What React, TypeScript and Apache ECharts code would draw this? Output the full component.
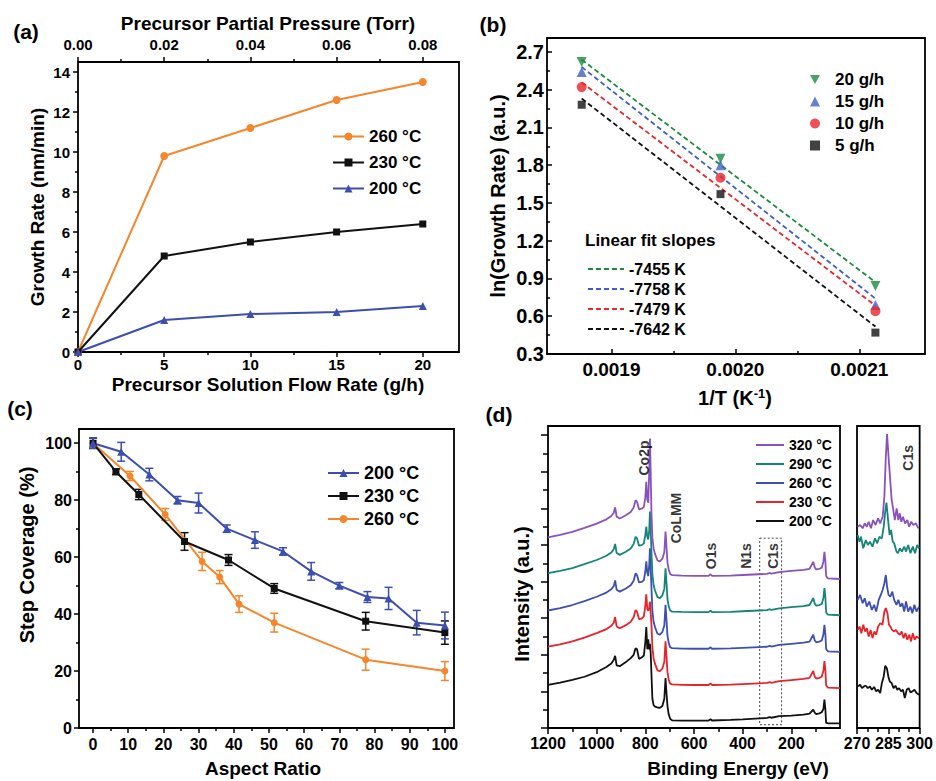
import React, { useEffect, useRef } from "react";
import * as echarts from "echarts";

const FONT = '"Liberation Sans", Arial, Helvetica, sans-serif';

// ---------- (a) growth rate vs. precursor flow rate ----------
const flowRate = [0, 5, 10, 15, 20];
const growth260 = [0, 9.8, 11.2, 12.6, 13.5];
const growth230 = [0, 4.8, 5.5, 6.0, 6.4];
const growth200 = [0, 1.6, 1.9, 2.0, 2.3];
const flowTicks = [0, 5, 10, 15, 20];
const flowMinor = [2.5, 7.5, 12.5, 17.5];
const pressureTicks = [0, 0.02, 0.04, 0.06, 0.08];
const pressureMinor = [0.01, 0.03, 0.05, 0.07];
const growthTicks = [0, 2, 4, 6, 8, 10, 12, 14];
const growthMinor = [1, 3, 5, 7, 9, 11, 13];

// ---------- (b) Arrhenius plot ----------
const inverseT = [0.001876, 0.001988, 0.002113];
const lnRate20 = [2.62, 1.85, 0.84];
const lnRate15 = [2.54, 1.8, 0.69];
const lnRate10 = [2.42, 1.7, 0.64];
const lnRate5 = [2.28, 1.57, 0.47];
const fitSlopes = [-7455, -7758, -7479, -7642]; // 20, 15, 10, 5 g/h
const invTTicks = [0.0019, 0.002, 0.0021];
const invTMinor = [0.00195, 0.00205];
const lnTicks = [0.3, 0.6, 0.9, 1.2, 1.5, 1.8, 2.1, 2.4, 2.7];
const lnMinor = [0.45, 0.75, 1.05, 1.35, 1.65, 1.95, 2.25, 2.55];

// ---------- (c) step coverage vs. aspect ratio ----------
const aspect200 = [0, 8, 16, 24, 30, 38, 46, 54, 62, 70, 78, 84, 92, 100];
const coverage200 = [100, 97, 89, 80, 79, 70, 66, 62, 55, 50, 46, 45.5, 37, 36];
const error200 = [1.8, 3.3, 2.2, 1.3, 3.5, 1.3, 2.9, 1.3, 3.1, 1.1, 1.9, 3.9, 4.3, 4.7];
const aspect230 = [0, 6.5, 13, 26, 38.5, 51.5, 77.5, 100];
const coverage230 = [100, 90, 82, 65.5, 59, 49, 37.5, 33.5];
const error230 = [1.8, 1, 1.8, 3.1, 1.9, 1.7, 3.1, 4.1];
const aspect260 = [0, 10.5, 20.5, 31, 36, 41.5, 51.5, 77.5, 100];
const coverage260 = [100, 88.5, 75, 58.5, 53, 43.5, 37, 24, 20];
const error260 = [1.8, 1.6, 2.1, 3.2, 2.3, 2.9, 3.3, 3.7, 3.3];
const aspectTicks = [0, 10, 20, 30, 40, 50, 60, 70, 80, 90, 100];
const aspectMinor = [5, 15, 25, 35, 45, 55, 65, 75, 85, 95];
const coverageTicks = [0, 20, 40, 60, 80, 100];
const coverageMinor = [10, 30, 50, 70, 90];

// ---------- (d) XPS survey spectra (stacked, arbitrary units) ----------
const surveyEnergy = [
  1200, 1150, 1100, 1050, 1000, 960, 940, 930, 924, 918, 905, 880, 860, 848, 840,
  834, 826, 815, 806, 800, 796, 792, 788, 784, 781, 778, 775, 771, 766, 760,
  750, 740, 730, 722, 717, 713, 709, 704, 698, 690, 650, 600, 540, 532, 526,
  450, 400, 300, 288, 282, 250, 200, 150, 125, 110, 104, 98, 85, 75, 68,
  64, 60, 57, 50, 0,
];
const survey320 = [
  10.41, 10.55, 10.72, 10.93, 11.17, 11.4, 11.58, 11.75, 12.06, 11.55, 11.45, 11.62, 11.8, 12.05, 12.45,
  12.35, 11.95, 11.98, 12.08, 12.6, 13.45, 12.5, 12.3, 14.0, 15.82, 14.0, 11.8, 10.4, 9.8, 9.5,
  9.15, 9.1, 9.25, 9.6, 10.73, 9.9, 9.05, 8.65, 8.42, 8.35, 8.32, 8.31, 8.31, 8.4, 8.31,
  8.33, 8.36, 8.42, 8.47, 8.43, 8.52, 8.58, 8.64, 8.7, 9.08, 8.78, 8.66, 8.7, 8.76, 9.1,
  9.62, 9.1, 8.3, 8.17, 8.14,
];
const survey290 = [
  8.46, 8.58, 8.74, 8.95, 9.18, 9.41, 9.59, 9.76, 10.06, 9.56, 9.46, 9.63, 9.81, 10.06, 10.45,
  10.35, 9.96, 9.99, 10.09, 10.55, 11.0, 10.45, 10.3, 10.8, 11.82, 10.8, 9.7, 8.4, 7.8, 7.5,
  7.15, 7.1, 7.25, 7.6, 8.73, 7.9, 7.05, 6.65, 6.42, 6.36, 6.34, 6.33, 6.33, 6.41, 6.33,
  6.35, 6.38, 6.44, 6.49, 6.45, 6.54, 6.6, 6.66, 6.72, 7.1, 6.8, 6.68, 6.72, 6.78, 7.12,
  7.64, 7.12, 6.32, 6.19, 6.16,
];
const survey260 = [
  6.42, 6.55, 6.72, 6.93, 7.17, 7.4, 7.58, 7.75, 8.06, 7.55, 7.45, 7.62, 7.8, 8.05, 8.45,
  8.35, 7.95, 7.98, 8.08, 8.55, 9.1, 8.5, 8.3, 8.9, 9.82, 8.8, 7.7, 6.4, 5.8, 5.5,
  5.15, 5.1, 5.25, 5.6, 6.73, 5.9, 5.05, 4.65, 4.42, 4.36, 4.34, 4.33, 4.33, 4.41, 4.33,
  4.35, 4.38, 4.44, 4.49, 4.45, 4.54, 4.6, 4.66, 4.72, 5.1, 4.8, 4.68, 4.72, 4.78, 5.12,
  5.64, 5.12, 4.32, 4.19, 4.16,
];
const survey230 = [
  4.44, 4.57, 4.73, 4.94, 5.18, 5.4, 5.58, 5.75, 6.06, 5.55, 5.45, 5.62, 5.8, 6.05, 6.45,
  6.35, 5.95, 5.98, 6.1, 6.7, 7.3, 6.5, 6.4, 6.6, 6.9, 6.3, 5.7, 4.4, 3.8, 3.5,
  3.15, 3.1, 3.25, 3.6, 4.73, 3.9, 3.05, 2.65, 2.42, 2.38, 2.36, 2.35, 2.35, 2.44, 2.35,
  2.37, 2.4, 2.46, 2.51, 2.47, 2.56, 2.62, 2.68, 2.74, 3.12, 2.82, 2.7, 2.74, 2.8, 3.14,
  3.66, 3.14, 2.34, 2.21, 2.18,
];
const survey200 = [
  2.36, 2.48, 2.63, 2.8, 3.05, 3.33, 3.52, 3.72, 3.94, 3.42, 3.38, 3.6, 3.82, 4.0, 4.36,
  4.3, 3.78, 3.85, 3.96, 4.7, 5.51, 4.3, 4.85, 4.3, 4.6, 4.1, 3.0, 1.6, 1.25, 1.17,
  1.12, 1.1, 1.2, 1.6, 2.73, 1.9, 1.2, 0.75, 0.5, 0.42, 0.4, 0.4, 0.41, 0.48, 0.41,
  0.44, 0.47, 0.55, 0.6, 0.56, 0.65, 0.68, 0.73, 0.78, 1.0, 0.84, 0.76, 0.8, 0.86, 1.05,
  1.55, 1.0, 0.28, 0.26, 0.25,
];
const energyTicks = [200, 400, 600, 800, 1000, 1200];
const energyMinor = [100, 300, 500, 700, 900, 1100];
const intensityTicks = [0, 2, 4, 6, 8, 10, 12, 14, 16];
const intensityMinor = [1, 3, 5, 7, 9, 11, 13, 15];

// C1s high-resolution window: [binding energy, intensity]
const c1s320 = [
  [270.3, 11.0], [271.5, 11.09], [272.7, 10.91], [273.7, 11.18], [274.7, 11.0], [275.6, 11.27],
  [276.7, 10.91], [277.7, 11.36], [278.9, 11.09], [280.1, 11.46], [281.1, 11.18], [282.3, 11.54],
  [283.1, 12.64], [283.8, 14.82], [284.4, 16.06], [285.1, 14.82], [285.9, 13.55], [286.6, 12.46],
  [287.4, 11.91], [288.1, 11.36], [289.0, 12.0], [289.8, 11.36], [290.5, 11.73], [291.2, 11.27],
  [292.0, 11.54], [293.0, 11.18], [294.1, 11.36], [295.0, 11.0], [296.0, 11.27], [297.0, 11.09],
  [298.2, 11.18], [299.4, 10.91],
];
const c1s290 = [
  [270.3, 10.55], [271.2, 10.18], [271.9, 10.45], [273.0, 9.82], [274.2, 10.27], [275.2, 10.0],
  [276.2, 10.18], [277.4, 9.91], [278.6, 10.36], [279.7, 10.09], [280.7, 10.45], [281.9, 10.36],
  [282.8, 11.0], [283.5, 11.82], [284.1, 12.31], [284.9, 11.36], [285.6, 10.55], [286.3, 10.82],
  [287.1, 10.18], [287.8, 10.09], [288.9, 9.64], [289.6, 9.55], [290.5, 9.82], [291.5, 9.64],
  [292.6, 9.91], [293.5, 9.64], [294.5, 10.0], [295.6, 9.55], [296.7, 9.91], [297.8, 9.55],
  [298.8, 10.0], [299.7, 9.82],
];
const c1s260 = [
  [270.3, 7.0], [271.5, 7.27], [272.7, 6.82], [273.7, 7.09], [274.7, 6.63], [275.9, 6.91],
  [277.1, 6.45], [278.2, 6.73], [279.2, 6.36], [280.4, 7.0], [281.4, 7.27], [282.3, 7.55],
  [283.1, 7.9], [283.8, 8.36], [284.4, 7.73], [285.1, 7.27], [286.0, 7.18], [286.9, 7.45],
  [287.8, 7.0], [288.9, 6.73], [289.8, 7.0], [290.8, 6.63], [291.7, 6.82], [292.6, 6.36],
  [293.5, 6.91], [294.5, 6.36], [295.6, 6.63], [296.5, 6.27], [297.5, 6.73], [298.5, 6.36],
  [299.7, 6.63],
];
const c1s230 = [
  [270.3, 5.36], [271.2, 5.54], [272.1, 5.18], [273.0, 5.64], [273.9, 5.27], [274.7, 5.45],
  [275.6, 5.0], [276.5, 5.36], [277.4, 4.91], [278.3, 5.27], [279.2, 5.09], [280.1, 5.54],
  [281.1, 5.73], [282.2, 5.64], [283.1, 6.36], [283.8, 6.55], [284.6, 6.27], [285.3, 5.64],
  [286.0, 5.54], [286.8, 5.36], [287.8, 5.27], [288.7, 5.36], [289.6, 5.18], [290.5, 5.09],
  [291.4, 5.27], [292.3, 4.91], [293.2, 5.18], [294.1, 4.82], [295.0, 5.09], [295.9, 4.73],
  [296.7, 5.18], [297.6, 4.82], [298.5, 5.0], [299.7, 4.91],
];
const c1s200 = [
  [270.3, 2.27], [271.5, 2.36], [272.4, 2.18], [273.3, 2.27], [274.2, 2.31], [275.2, 2.18],
  [276.2, 2.27], [277.1, 2.09], [278.2, 2.24], [279.2, 2.0], [280.1, 2.09], [281.1, 1.91],
  [281.9, 2.45], [282.8, 2.82], [283.5, 3.4], [284.3, 3.27], [285.0, 2.82], [285.7, 2.54],
  [286.6, 2.45], [287.5, 2.18], [288.4, 2.31], [289.3, 2.09], [290.2, 2.18], [291.1, 2.0],
  [292.0, 2.09], [292.9, 1.64], [293.8, 2.09], [294.7, 2.18], [295.6, 1.94], [296.5, 2.0],
  [297.5, 2.09], [298.5, 1.91], [299.7, 1.82],
];
const c1sTicks = [270, 285, 300];
const c1sMinor = [275, 280, 290, 295];

// peak annotations [binding energy, intensity, text]
const surveyPeaks = [
  [806, 14.75, "Co2p"],
  [673, 11.47, "CoLMM"],
  [529, 9.4, "O1s"],
  [385, 9.4, "N1s"],
  [276, 9.4, "C1s"],
];
const c1sPeakLabel = [[294.5, 14.76, "C1s"]];
const c1sWindow = { from: 330, to: 240, top: 10.37, bottom: 0.18 };

// ---------- colours ----------
const ORANGE = "#f4862c";
const NAVY = "#3c4fae";
const BLACK = "#111111";
const GREEN = "#1b8a3f";
const BLUE_B = "#3e5fc8";
const RED_B = "#e8262c";
const PURPLE = "#8a52bf";
const TEAL = "#15857a";
const BLUE_D = "#3d4fb3";
const RED_D = "#e8232b";

const LEGEND_TEXT: Record<string, string> = {
  a260: "260 °C",
  a230: "230 °C",
  a200: "200 °C",
  b20: "20 g/h",
  b15: "15 g/h",
  b10: "10 g/h",
  b5: "5 g/h",
  f20: `${fitSlopes[0]} K`,
  f15: `${fitSlopes[1]} K`,
  f10: `${fitSlopes[2]} K`,
  f5: `${fitSlopes[3]} K`,
  c200: "200 °C",
  c230: "230 °C",
  c260: "260 °C",
  d320: "320 °C",
  d290: "290 °C",
  d260: "260 °C",
  d230: "230 °C",
  d200: "200 °C",
};

const DOWN_TRIANGLE = "path://M0,0L10,0L5,9Z";

const pairs = (xs: number[], ys: number[]) => xs.map((x, i) => [x, ys[i]]);
const triples = (xs: number[], ys: number[], es: number[]) => xs.map((x, i) => [x, ys[i], es[i]]);
const mean = (v: number[]) => v.reduce((s, a) => s + a, 0) / v.length;

// least-squares intercept for a line of fixed slope through the points
function fitLine(ys: number[], slope: number) {
  const b = mean(ys) - slope * mean(inverseT);
  const x0 = inverseT[0];
  const x1 = inverseT[inverseT.length - 1];
  return [
    [x0, b + slope * x0],
    [x1, b + slope * x1],
  ];
}

type AxisSpec = {
  grid: number;
  min: number;
  max: number;
  position: string;
  major?: number[];
  minor?: number[];
  labels?: number[];
  fmt?: (v: number) => string;
  fontSize?: number;
  margin?: number;
  inside?: boolean;
  inverse?: boolean;
  majorLen?: number;
  minorLen?: number;
};

const tickLine = { color: "#000", width: 1.5 };

// each axis is a pair: major ticks + labels, then minor ticks only
function axisPair(s: AxisSpec) {
  const base: any = {
    type: "value",
    gridIndex: s.grid,
    min: s.min,
    max: s.max,
    position: s.position,
    inverse: !!s.inverse,
    axisLine: { show: false, onZero: false },
    splitLine: { show: false },
    minorTick: { show: false },
    minorSplitLine: { show: false },
  };
  const main = {
    ...base,
    axisTick:
      s.major && s.major.length
        ? { show: true, inside: !!s.inside, length: s.majorLen ?? 5, customValues: s.major, lineStyle: tickLine }
        : { show: false },
    axisLabel: s.labels
      ? {
          show: true,
          customValues: s.labels,
          formatter: s.fmt ?? ((v: number) => String(v)),
          fontSize: s.fontSize,
          margin: s.margin,
          color: "#000",
          fontWeight: "bold",
          fontFamily: FONT,
        }
      : { show: false },
  };
  const minor = {
    ...base,
    axisTick:
      s.minor && s.minor.length
        ? { show: true, inside: !!s.inside, length: s.minorLen ?? 3, customValues: s.minor, lineStyle: tickLine }
        : { show: false },
    axisLabel: { show: false },
  };
  return [main, minor];
}

function text(t: string, x: number, y: number, size: number, rotate = false, align = "center") {
  return {
    type: "text",
    x,
    y,
    rotation: rotate ? Math.PI / 2 : 0,
    silent: true,
    style: {
      text: t,
      font: `bold ${size}px ${FONT}`,
      fill: "#000",
      align,
      verticalAlign: "middle",
    },
  };
}

function legend(
  data: string[],
  left: number,
  top: number,
  itemWidth: number,
  itemHeight: number,
  itemGap: number,
  fontSize: number,
  extra: any = {}
) {
  return {
    orient: "vertical",
    left,
    top,
    padding: 0,
    itemWidth,
    itemHeight,
    itemGap,
    selectedMode: false,
    data,
    formatter: (n: string) => LEGEND_TEXT[n],
    textStyle: { fontSize, fontWeight: "bold", fontFamily: FONT, color: "#000", ...(extra.text || {}) },
    ...(extra.itemStyle ? { itemStyle: extra.itemStyle } : {}),
  };
}

function errorBars(name: string, pts: number[][], color: string, xi: number, yi: number) {
  return {
    type: "custom",
    name,
    xAxisIndex: xi,
    yAxisIndex: yi,
    data: pts,
    encode: { x: 0, y: 1 },
    z: 2,
    renderItem: (_p: any, api: any) => {
      const x = api.value(0);
      const y = api.value(1);
      const e = api.value(2);
      const p1 = api.coord([x, y + e]);
      const p2 = api.coord([x, y - e]);
      const hw = 4;
      const st = { stroke: color, lineWidth: 1.5 };
      return {
        type: "group",
        children: [
          { type: "line", shape: { x1: p1[0], y1: p1[1], x2: p2[0], y2: p2[1] }, style: st },
          { type: "line", shape: { x1: p1[0] - hw, y1: p1[1], x2: p1[0] + hw, y2: p1[1] }, style: st },
          { type: "line", shape: { x1: p2[0] - hw, y1: p2[1], x2: p2[0] + hw, y2: p2[1] }, style: st },
        ],
      };
    },
  };
}

function buildOption(): any {
  const frame = { show: true, borderColor: "#000", borderWidth: 1.8, backgroundColor: "transparent" };
  const grid = [
    { ...frame, left: 78, top: 62, width: 381, height: 290 },
    { ...frame, left: 547, top: 38, width: 378, height: 316 },
    { ...frame, left: 79, top: 429, width: 375, height: 299 },
    { ...frame, left: 548, top: 426, width: 292, height: 302 },
    { ...frame, left: 857, top: 426, width: 67, height: 302 },
  ];

  const xAxis = [
    // 0,1 (a) flow rate
    ...axisPair({ grid: 0, min: 0, max: 22.1, position: "bottom", major: flowTicks, minor: flowMinor, labels: flowTicks, fontSize: 15, margin: 5 }),
    // 2,3 (a) partial pressure
    ...axisPair({ grid: 0, min: 0, max: 0.0884, position: "top", major: pressureTicks, minor: pressureMinor, labels: pressureTicks, fmt: (v) => v.toFixed(2), fontSize: 15, margin: 10 }),
    // 4,5 (b) 1/T
    ...axisPair({ grid: 1, min: 0.001848, max: 0.002153, position: "bottom", major: invTTicks, minor: invTMinor, labels: invTTicks, fmt: (v) => v.toFixed(4), fontSize: 19, margin: 6, inside: true }),
    // 6,7 (c) aspect ratio
    ...axisPair({ grid: 2, min: -4, max: 102.6, position: "bottom", major: aspectTicks, minor: aspectMinor, labels: aspectTicks, fontSize: 16, margin: 8 }),
    // 8,9 (d) binding energy survey
    ...axisPair({ grid: 3, min: 0, max: 1200, inverse: true, position: "bottom", major: energyTicks, minor: energyMinor, labels: energyTicks, fontSize: 16, margin: 7, majorLen: 6, minorLen: 4 }),
    // 10,11 (d) C1s window
    ...axisPair({ grid: 4, min: 270, max: 300, position: "bottom", major: c1sTicks, minor: c1sMinor, labels: c1sTicks, fontSize: 16, margin: 7, majorLen: 6, minorLen: 4 }),
  ];

  const yAxis = [
    // 0,1 (a)
    ...axisPair({ grid: 0, min: 0, max: 14.5, position: "left", major: growthTicks, minor: growthMinor, labels: growthTicks, fontSize: 15, margin: 8 }),
    // 2,3 (b)
    ...axisPair({ grid: 1, min: 0.3, max: 2.81, position: "left", major: lnTicks, minor: lnMinor, labels: lnTicks, fmt: (v) => v.toFixed(1), fontSize: 20, margin: 3, inside: true }),
    // 4,5 (c)
    ...axisPair({ grid: 2, min: 0, max: 105, position: "left", major: coverageTicks, minor: coverageMinor, labels: coverageTicks, fontSize: 16, margin: 7 }),
    // 6,7 (d) survey
    ...axisPair({ grid: 3, min: 0, max: 16.5, position: "left", major: intensityTicks, minor: intensityMinor, majorLen: 7, minorLen: 5 }),
    // 8,9 (d) C1s window
    ...axisPair({ grid: 4, min: 0, max: 16.5, position: "left" }),
  ];

  const lineA = (name: string, ys: number[], color: string, symbol: string, size: number) => ({
    type: "line",
    name,
    xAxisIndex: 0,
    yAxisIndex: 0,
    data: pairs(flowRate, ys),
    symbol,
    symbolSize: size,
    lineStyle: { width: 2, color },
    itemStyle: { color },
    z: 3,
  });

  const scatterB = (name: string, ys: number[], color: string, symbol: string, size: number) => ({
    type: "scatter",
    name,
    xAxisIndex: 4,
    yAxisIndex: 2,
    data: pairs(inverseT, ys),
    symbol,
    symbolSize: size,
    itemStyle: { color },
    z: 4,
  });

  const fitB = (name: string, ys: number[], slope: number, color: string) => ({
    type: "line",
    name,
    xAxisIndex: 4,
    yAxisIndex: 2,
    data: fitLine(ys, slope),
    symbol: "none",
    lineStyle: { width: 1.8, type: [5, 3], color },
    itemStyle: { color },
    z: 3,
  });

  const lineC = (name: string, xs: number[], ys: number[], color: string, symbol: string, size: number) => ({
    type: "line",
    name,
    xAxisIndex: 6,
    yAxisIndex: 4,
    data: pairs(xs, ys),
    symbol,
    symbolSize: size,
    lineStyle: { width: 2, color },
    itemStyle: { color },
    z: 3,
  });

  const survey = (name: string, ys: number[], color: string) => ({
    type: "line",
    name,
    xAxisIndex: 8,
    yAxisIndex: 6,
    data: pairs(surveyEnergy, ys),
    symbol: "none",
    lineStyle: { width: 1.8, color },
    itemStyle: { color },
    z: 3,
  });

  const c1s = (name: string, pts: number[][], color: string) => ({
    type: "line",
    name,
    xAxisIndex: 10,
    yAxisIndex: 8,
    data: pts,
    symbol: "none",
    lineStyle: { width: 1.8, color },
    itemStyle: { color },
    z: 3,
  });

  const peakLabel = (name: string, xi: number, yi: number, pts: any[]) => ({
    type: "scatter",
    name,
    xAxisIndex: xi,
    yAxisIndex: yi,
    data: pts,
    encode: { x: 0, y: 1 },
    symbolSize: 1,
    itemStyle: { color: "rgba(0,0,0,0)" },
    silent: true,
    z: 5,
    label: {
      show: true,
      position: "inside",
      rotate: 90,
      formatter: (p: any) => p.value[2],
      fontSize: 14,
      fontWeight: "bold",
      fontFamily: FONT,
      color: "#000",
    },
  });

  const series: any[] = [
    // (a)
    lineA("a260", growth260, ORANGE, "circle", 8),
    lineA("a230", growth230, BLACK, "rect", 7),
    lineA("a200", growth200, NAVY, "triangle", 8),
    // (b)
    fitB("f20", lnRate20, fitSlopes[0], GREEN),
    fitB("f15", lnRate15, fitSlopes[1], BLUE_B),
    fitB("f10", lnRate10, fitSlopes[2], RED_B),
    fitB("f5", lnRate5, fitSlopes[3], BLACK),
    scatterB("b20", lnRate20, GREEN, DOWN_TRIANGLE, 10),
    scatterB("b15", lnRate15, BLUE_B, "triangle", 10),
    scatterB("b10", lnRate10, RED_B, "circle", 10),
    scatterB("b5", lnRate5, BLACK, "rect", 8),
    // (c)
    errorBars("e260", triples(aspect260, coverage260, error260), ORANGE, 6, 4),
    errorBars("e230", triples(aspect230, coverage230, error230), BLACK, 6, 4),
    errorBars("e200", triples(aspect200, coverage200, error200), NAVY, 6, 4),
    lineC("c260", aspect260, coverage260, ORANGE, "circle", 7),
    lineC("c230", aspect230, coverage230, BLACK, "rect", 7),
    lineC("c200", aspect200, coverage200, NAVY, "triangle", 8),
    // (d) survey
    survey("d200", survey200, BLACK),
    survey("d230", survey230, RED_D),
    survey("d260", survey260, BLUE_D),
    survey("d290", survey290, TEAL),
    survey("d320", survey320, PURPLE),
    {
      ...peakLabel("peaks", 8, 6, surveyPeaks),
      markArea: {
        silent: true,
        itemStyle: { color: "rgba(0,0,0,0)", borderColor: "#444", borderWidth: 1, borderType: [2, 2] },
        data: [[{ coord: [c1sWindow.from, c1sWindow.top] }, { coord: [c1sWindow.to, c1sWindow.bottom] }]],
      },
    },
    // (d) C1s window
    c1s("h200", c1s200, BLACK),
    c1s("h230", c1s230, RED_D),
    c1s("h260", c1s260, BLUE_D),
    c1s("h290", c1s290, TEAL),
    c1s("h320", c1s320, PURPLE),
    peakLabel("c1sLabel", 10, 8, c1sPeakLabel),
  ];

  // line-only legend entries: hide the marker drawn on the icon
  const lineOnly = { color: "rgba(0,0,0,0)", borderWidth: 0, borderColor: "rgba(0,0,0,0)" };

  const legends = [
    legend(["a260", "a230", "a200"], 332, 128, 31, 10, 9, 17),
    legend(["b20", "b15", "b10", "b5"], 810, 71, 10, 10, 5, 17, { text: { padding: [0, 0, 0, 10] } }),
    legend(["f20", "f15", "f10", "f5"], 587, 261, 36, 10, 4, 16, { itemStyle: lineOnly }),
    legend(["c200", "c230", "c260"], 327, 464, 31, 10, 5, 18),
    legend(["d320", "d290", "d260", "d230", "d200"], 755, 438, 28, 10, 5, 14, { itemStyle: lineOnly }),
  ];

  const graphic = [
    text("(a)", 26, 31, 21),
    text("(b)", 493, 24, 21),
    text("(c)", 20, 408, 21),
    text("(d)", 499, 414, 21),
    text("Precursor Partial Pressure (Torr)", 268, 23, 19),
    text("Precursor Solution Flow Rate (g/h)", 268, 384, 19),
    text("Growth Rate (nm/min)", 37, 207, 19, true),
    text("ln(Growth Rate) (a.u.)", 498, 196, 20, true),
    {
      type: "text",
      x: 735,
      y: 398,
      silent: true,
      style: {
        text: "{n|1/T (K}{s|-1}{n|)}",
        align: "center",
        verticalAlign: "middle",
        fill: "#000",
        rich: {
          n: { font: `bold 20px ${FONT}`, fill: "#000" },
          s: { font: `bold 13px ${FONT}`, fill: "#000", padding: [0, 0, 10, 0] },
        },
      },
    },
    text("Linear fit slopes", 585, 240, 17, false, "left"),
    text("Step Coverage (%)", 27, 555, 20, true),
    text("Aspect Ratio", 263, 768, 19),
    text("Intensity (a.u.)", 522, 594, 20, true),
    text("Binding Energy (eV)", 738, 768, 19),
  ];

  return {
    animation: false,
    backgroundColor: "#fff",
    textStyle: { fontFamily: FONT, fontWeight: "bold" },
    grid,
    xAxis,
    yAxis,
    legend: legends,
    series,
    graphic,
  };
}

export default function App() {
  const ref = useRef<HTMLDivElement>(null);
  useEffect(() => {
    if (!ref.current) return;
    const chart = echarts.init(ref.current, null, { renderer: "svg", width: 936, height: 781 });
    chart.setOption(buildOption());
    return () => chart.dispose();
  }, []);
  return (
    <div
      ref={ref}
      style={{ position: "fixed", left: 0, top: 0, width: 936, height: 781, background: "#fff" }}
    />
  );
}
